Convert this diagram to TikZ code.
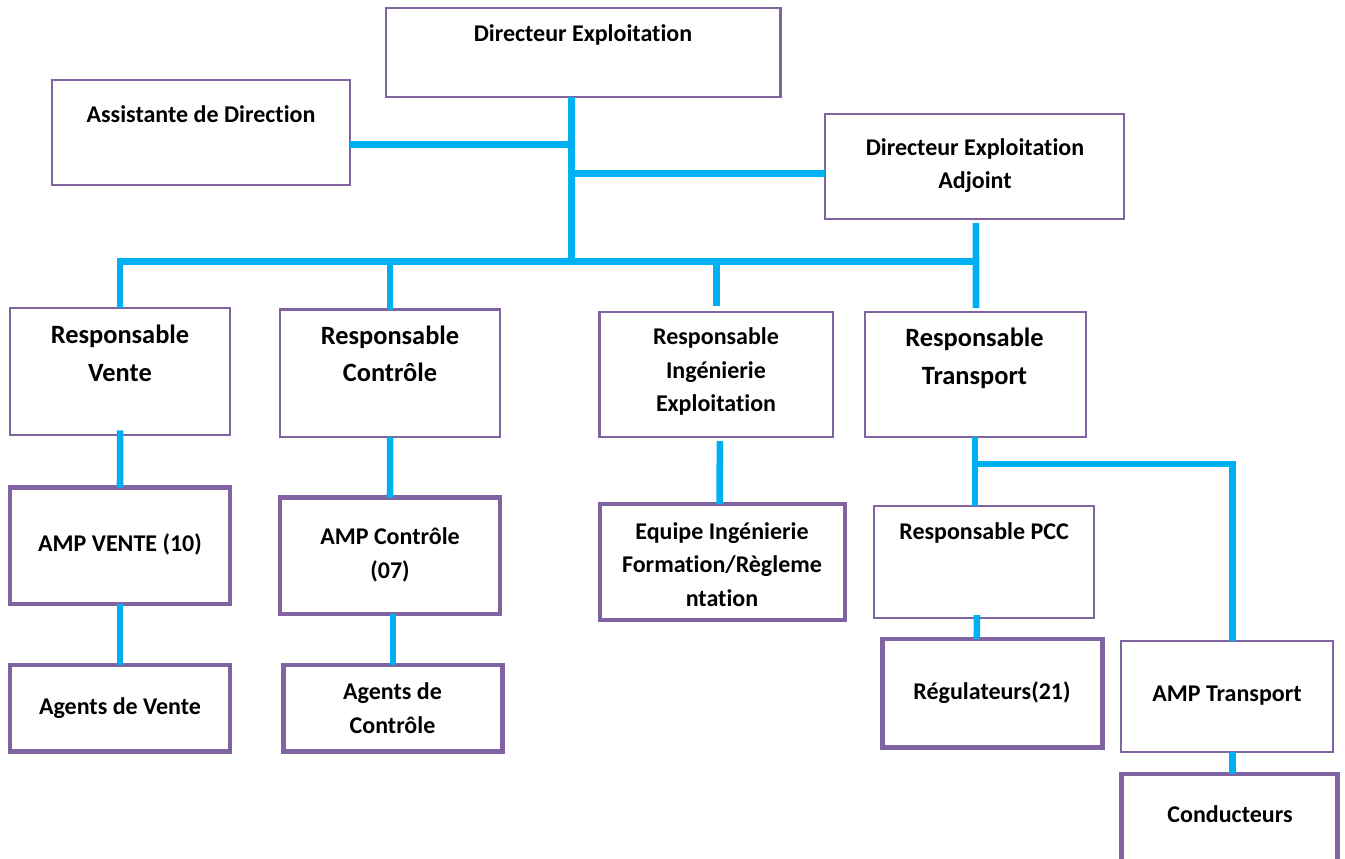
\documentclass[tikz,border=0pt]{standalone}
\usepackage{fontspec}
\setmainfont{Carlito}[RawFeature=-liga]
\usetikzlibrary{calc}

\definecolor{boxpurple}{RGB}{128,100,162}
\definecolor{linkblue}{RGB}{0,176,240}

% box: name, style, x1, y1, x2, y2 (stroke centre lines)
\newcommand{\orgbox}[6]{%
  \node[#2, minimum width={(#5-#3)*0.75pt}, minimum height={(#6-#4)*0.75pt}]
    (#1) at ({(#3+#5)/2},{(#4+#6)/2}) {};}

\tikzset{
  basebox/.style={rectangle, draw=boxpurple, fill=white, inner sep=0pt, outer sep=0pt},
  thinbox/.style={basebox, line width=1.6pt},
  thickbox/.style={basebox, line width=3.5pt},
  link/.style={draw=linkblue, line width=4.9pt, line cap=butt, line join=miter},
  % labels are placed by the baseline of their last line
  lbl/.style={font=\fontsize{18}{25.1}\selectfont\bfseries, align=center,
              anchor=base, inner sep=0pt, text=black},
  lblbig/.style={lbl, font=\fontsize{19.8}{28.1}\selectfont\bfseries},
}

\begin{document}
\begin{tikzpicture}[x=0.75pt, y=-0.75pt]
\clip (0,0) rectangle (1345,858);
\fill[white] (0,0) rectangle (1345,858);

% ---- boxes ----
\orgbox{de}{thinbox}{386}{7.8}{780.5}{97}
\orgbox{asst}{thinbox}{52}{80}{350}{185}
\orgbox{adj}{thinbox}{825}{114}{1124.3}{219}
\orgbox{rv}{thinbox}{10}{307.7}{230.3}{435.3}
\orgbox{rc}{thinbox}{280}{309.5}{500.3}{437}
\orgbox{ri}{thinbox}{599.5}{312}{833.3}{437}
\orgbox{rt}{thinbox}{865}{312}{1086}{437}
\orgbox{av}{thickbox}{10}{487.5}{230}{604}
\orgbox{ac}{thickbox}{280}{497.5}{500}{614}
\orgbox{eq}{thickbox}{600}{504}{845}{620}
\orgbox{pcc}{thinbox}{874}{506}{1094}{618}
\orgbox{agv}{thickbox}{10}{665}{230}{751.7}
\orgbox{agc}{thickbox}{283.3}{665}{502.5}{751.7}
\orgbox{reg}{thickbox}{882.5}{639}{1102.5}{747.5}
\orgbox{ampt}{thinbox}{1120.7}{641.3}{1333}{752}
\orgbox{cond}{thickbox}{1121.7}{774}{1337.5}{880}

% ---- junctions ----
\coordinate (hub) at (571.5,261.7);
\coordinate (jA) at (571.5,144.5);
\coordinate (jB) at (571.5,173.3);
\coordinate (busR) at (979.3,261.7);
\coordinate (split) at (975,464);
\coordinate (splitR) at (1232.7,464);

% ---- connectors ----
\draw[link] (de.south -| hub) -- (hub);
\draw[link] (jA) -- (jA -| asst.east);
\draw[link] (jB) -- (jB -| adj.west);
\draw[link] (rv.north) |- (busR);
\draw[link] (rc.north) -- (rc.north |- hub);
\draw[link] ($(ri.north)+(0,-6)$) -- (ri.north |- hub);
\draw[link] ($(adj.south)+(1.3,4)$) -- ($(rt.north)+(0.5,-4)$);

\draw[link] ($(rv.south)+(0,-5)$) -- (av.north);
\draw[link] (av.south) -- (agv.north);
\draw[link] (rc.south) -- (ac.north);
\draw[link] (agc.north) -- (agc.north |- ac.south);
\draw[link] ($(ri.south)+(3.5,4)$) -- ($(eq.north)+(-3,0)$);

\draw[link] (rt.south -| split) -- (split |- pcc.north);
\draw[link] ($(split)+(-3.25,0)$) -- (splitR) -- (splitR |- ampt.north);
\draw[link] ($(pcc.south)+(-7,-3)$) -- ($(pcc.south)+(-7,0)$) -- ($(reg.north)+(-15.8,0)$);
\draw[link] (ampt.south -| splitR) -- (splitR |- cond.north);

% ---- labels ----
\node[lbl] (de-t) at (583,41) {Directeur Exploitation};
\node[lbl] (asst-t) at (201,122) {Assistante de Direction};
\node[lbl] (adj-t) at (975,188.5) {Directeur Exploitation\\Adjoint};
\node[lblbig] (rv-t) at (120,381) {Responsable\\Vente};
\node[lblbig] (rc-t) at (390,381.7) {Responsable\\Contrôle};
\node[lbl] (ri-t) at (716,411.7) {Responsable\\Ingénierie\\Exploitation};
\node[lblbig] (rt-t) at (974.5,384.3) {Responsable\\Transport};
\node[lbl] (av-t) at (120,551.7) {AMP VENTE (10)};
\node[lbl] (ac-t) at (390,578.3) {AMP Contrôle\\(07)};
\node[lbl] (eq-t) at (722,606) {Equipe Ingénierie\\Formation/Règleme\\ntation};
\node[lbl] (pcc-t) at (984,539.3) {Responsable PCC};
\node[lbl] (agv-t) at (120,714.3) {Agents de Vente};
\node[lbl] (agc-t) at (392.5,733) {Agents de\\Contrôle};
\node[lbl] (reg-t) at (992,699.3) {Régulateurs(21)};
\node[lbl] (ampt-t) at (1227,701.7) {AMP Transport};
\node[lbl] (cond-t) at (1230,822.3) {Conducteurs};
\end{tikzpicture}
\end{document}
